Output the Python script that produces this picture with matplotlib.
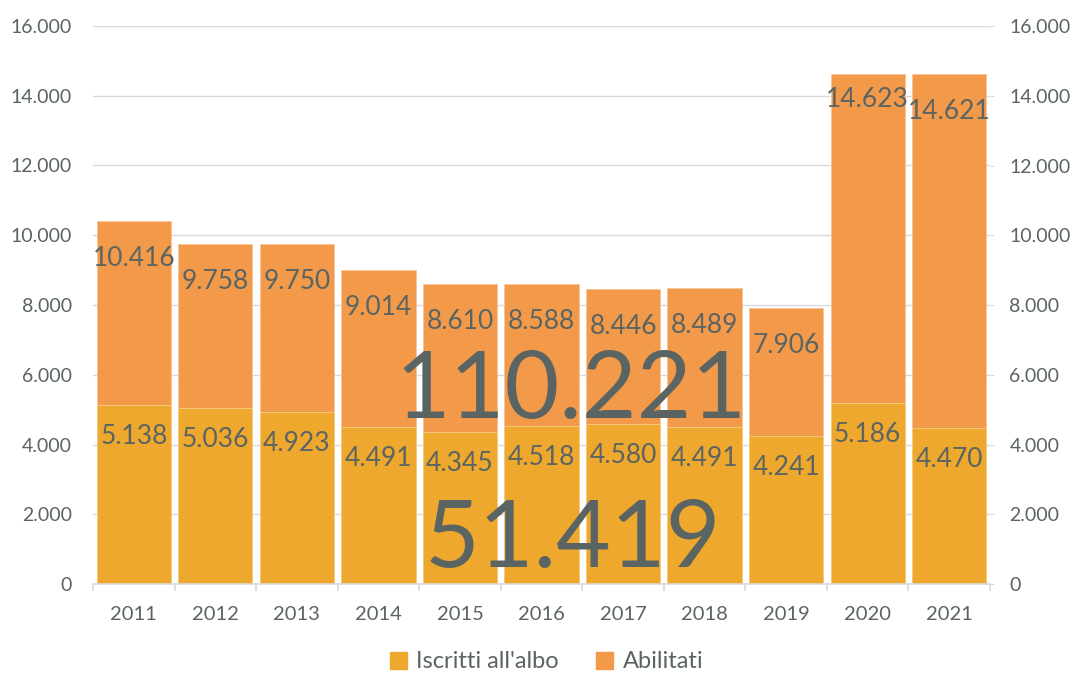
import matplotlib.pyplot as plt
from matplotlib.ticker import FuncFormatter, FixedLocator
from matplotlib.patches import Patch

# data
years = [2011, 2012, 2013, 2014, 2015, 2016, 2017, 2018, 2019, 2020, 2021]
abilitati = [10416, 9758, 9750, 9014, 8610, 8588, 8446, 8489, 7906, 14623, 14621]
iscritti = [5138, 5036, 4923, 4491, 4345, 4518, 4580, 4491, 4241, 5186, 4470]

c_iscr = '#EFA82E'
c_abil = '#F29A4A'
txt = '#5A6462'
grid = '#D9D9D9'

plt.rcParams['font.family'] = ['Lato', 'DejaVu Sans']


def fmt(v):
    return f"{int(v):,}".replace(",", ".")


fig = plt.figure(figsize=(10.76, 6.73), dpi=100)
ax = fig.add_axes([93 / 1076, 89 / 673, 897 / 1076, 558 / 673])

x = list(range(len(years)))
ax.bar(x, abilitati, width=0.91, color=c_abil, edgecolor='#F7C39A', linewidth=0.6, zorder=2)
ax.bar(x, iscritti, width=0.91, color=c_iscr, edgecolor='#F5CF8A', linewidth=0.6, zorder=3)

ax.set_xlim(-0.5, len(years) - 0.5)
ax.set_ylim(0, 16000)
ax.set_yticks(range(0, 16001, 2000))
ax.yaxis.set_major_formatter(FuncFormatter(lambda v, p: fmt(v)))
ax.grid(axis='y', color=grid, linewidth=1, zorder=0)
ax.set_axisbelow(True)

for s in ['top', 'right', 'left']:
    ax.spines[s].set_visible(False)
ax.spines['bottom'].set_color(grid)
ax.spines['bottom'].set_linewidth(1.2)
ax.spines['bottom'].set_zorder(4)

ax.set_xticks(x)
ax.set_xticklabels([str(y) for y in years])
ax.xaxis.set_minor_locator(FixedLocator([i - 0.5 for i in range(len(years) + 1)]))
ax.tick_params(axis='x', which='major', length=0, pad=16, labelsize=14.5, labelcolor=txt)
ax.tick_params(axis='x', which='minor', length=5, color=grid, width=1.2)
ax.tick_params(axis='y', length=0, pad=15, labelsize=14, labelcolor=txt)

ax2 = ax.twinx()
ax2.set_ylim(ax.get_ylim())
ax2.set_yticks(range(0, 16001, 2000))
ax2.yaxis.set_major_formatter(FuncFormatter(lambda v, p: fmt(v)))
for s in ax2.spines.values():
    s.set_visible(False)
ax2.tick_params(axis='y', length=3, color=grid, pad=11, labelsize=14, labelcolor=txt)

# value labels (baseline offset below bar top, in pixels)
nudge = {2020: 12}
for i, (a, b) in enumerate(zip(abilitati, iscritti)):
    ax.annotate(fmt(a), (i, a), xytext=(0, -45 + nudge.get(years[i], 0)),
                textcoords='offset pixels', ha='center', va='baseline',
                fontsize=19, color=txt, zorder=5)
    ax.annotate(fmt(b), (i, b), xytext=(0, -39), textcoords='offset pixels',
                ha='center', va='baseline', fontsize=19, color=txt, zorder=5)

# totals
fig.text(571 / 1076, (673 - 418) / 673, fmt(sum(abilitati)), ha='center',
         va='baseline', fontsize=68, color=txt, zorder=6)
fig.text(573 / 1076, (673 - 567) / 673, fmt(sum(iscritti)), ha='center',
         va='baseline', fontsize=68, color=txt, zorder=6)

handles = [Patch(color=c_iscr, label="Iscritti all'albo"),
           Patch(color=c_abil, label='Abilitati')]
leg = fig.legend(handles=handles, loc='center', bbox_to_anchor=(0.508, 11 / 673),
                 ncol=2, frameon=False, fontsize=17, handlelength=0.7,
                 handleheight=0.7, handletextpad=0.4, columnspacing=1.6)
for t in leg.get_texts():
    t.set_color(txt)

plt.savefig('out.png', dpi=100)
